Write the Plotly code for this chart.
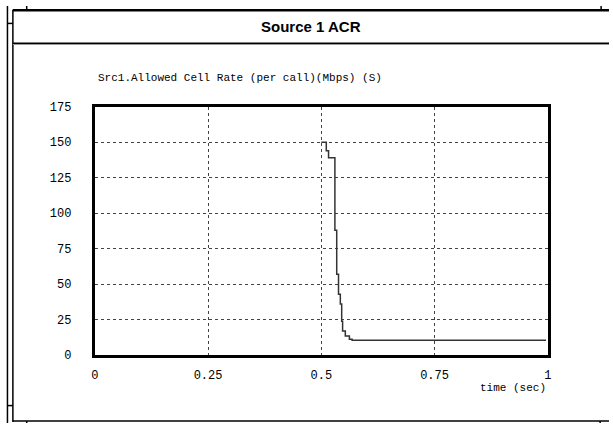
import plotly.graph_objects as go

W, H = 613, 431

# Data
time_sec = [0.500, 0.511, 0.516, 0.530, 0.534, 0.538, 0.542, 0.545, 0.547, 0.553, 0.562, 0.568, 0.996]
acr_mbps = [150, 144, 139, 88, 57, 43, 36, 24, 17, 13.5, 11.3, 10.5, 10.5]

x_ticks = [0, 0.25, 0.5, 0.75, 1]
x_tick_labels = ["0", "0.25", "0.5", "0.75", "1"]
y_ticks = [0, 25, 50, 75, 100, 125, 150, 175]
y_tick_labels = ["0", "25", "50", "75", "100", "125", "150", "175"]

title_text = "Source 1 ACR"
subtitle_text = "Src1.Allowed Cell Rate (per call)(Mbps) (S)"
x_label = "time (sec)"

def px(x):
    return x / W

def py(y):
    return 1 - y / H

fig = go.Figure()
fig.add_trace(go.Scatter(
    x=time_sec, y=acr_mbps, mode="lines",
    line=dict(color="#333333", width=1.5, shape="hv"),
    showlegend=False, hoverinfo="skip",
))

mono = "Liberation Mono"

fig.update_layout(
    width=W, height=H,
    margin=dict(l=0, r=0, t=0, b=0),
    paper_bgcolor="white", plot_bgcolor="white",
    xaxis=dict(
        domain=[px(92), px(551)], range=[0, 1],
        tickvals=x_ticks, ticktext=x_tick_labels,
        showgrid=True, gridcolor="#444444", griddash="dot", gridwidth=1,
        showline=True, mirror=True, linecolor="black", linewidth=3,
        zeroline=False, ticks="", ticklabelstandoff=6,
        tickfont=dict(family=mono, size=12, color="black"),
        fixedrange=True,
    ),
    yaxis=dict(
        domain=[py(361), py(104)], range=[0, 175],
        tickvals=y_ticks, ticktext=y_tick_labels,
        showgrid=True, gridcolor="#444444", griddash="dot", gridwidth=1,
        showline=True, mirror=True, linecolor="black", linewidth=3,
        zeroline=False, ticks="", ticklabelstandoff=18,
        tickfont=dict(family=mono, size=12, color="black"),
        fixedrange=True,
    ),
)

shapes = []
def line(x0, y0, x1, y1, w=1.5, c="black"):
    shapes.append(dict(type="line", xref="paper", yref="paper",
                       x0=px(x0), y0=py(y0), x1=px(x1), y1=py(y1),
                       line=dict(color=c, width=w)))

# outer window frame
line(3.5, 0, 3.5, 431)
line(9, 4, 9, 430)
line(3.5, 18, 9, 18)
line(3.5, 413, 9, 413)
line(9, 4.5, 613, 4.5, w=2.5)
line(23, 0, 23, 4)
line(605, 0, 605, 4)
line(9, 39.5, 613, 39.5, w=1.5, c="#999999")
line(9, 38.5, 613, 38.5, w=1.5)
line(9, 429, 613, 429, w=1.5)
line(23, 429, 23, 431)
line(604, 429, 604, 431)

fig.update_layout(shapes=shapes)

fig.add_annotation(xref="paper", yref="paper", x=px(311), y=py(21),
                   text="<b>" + title_text + "</b>", showarrow=False,
                   font=dict(family="Liberation Sans", size=15, color="black"),
                   xanchor="center", yanchor="middle")
fig.add_annotation(xref="paper", yref="paper", x=px(93), y=py(74),
                   text=subtitle_text, showarrow=False,
                   font=dict(family=mono, size=11, color="black"),
                   xanchor="left", yanchor="middle")
fig.add_annotation(xref="paper", yref="paper", x=px(551), y=py(395),
                   text=x_label, showarrow=False,
                   font=dict(family=mono, size=11, color="black"),
                   xanchor="right", yanchor="middle")

fig.write_html("out.html",
               config={"displayModeBar": False, "staticPlot": True},
               post_script="document.body.style.margin='0';document.body.style.overflow='hidden';")
